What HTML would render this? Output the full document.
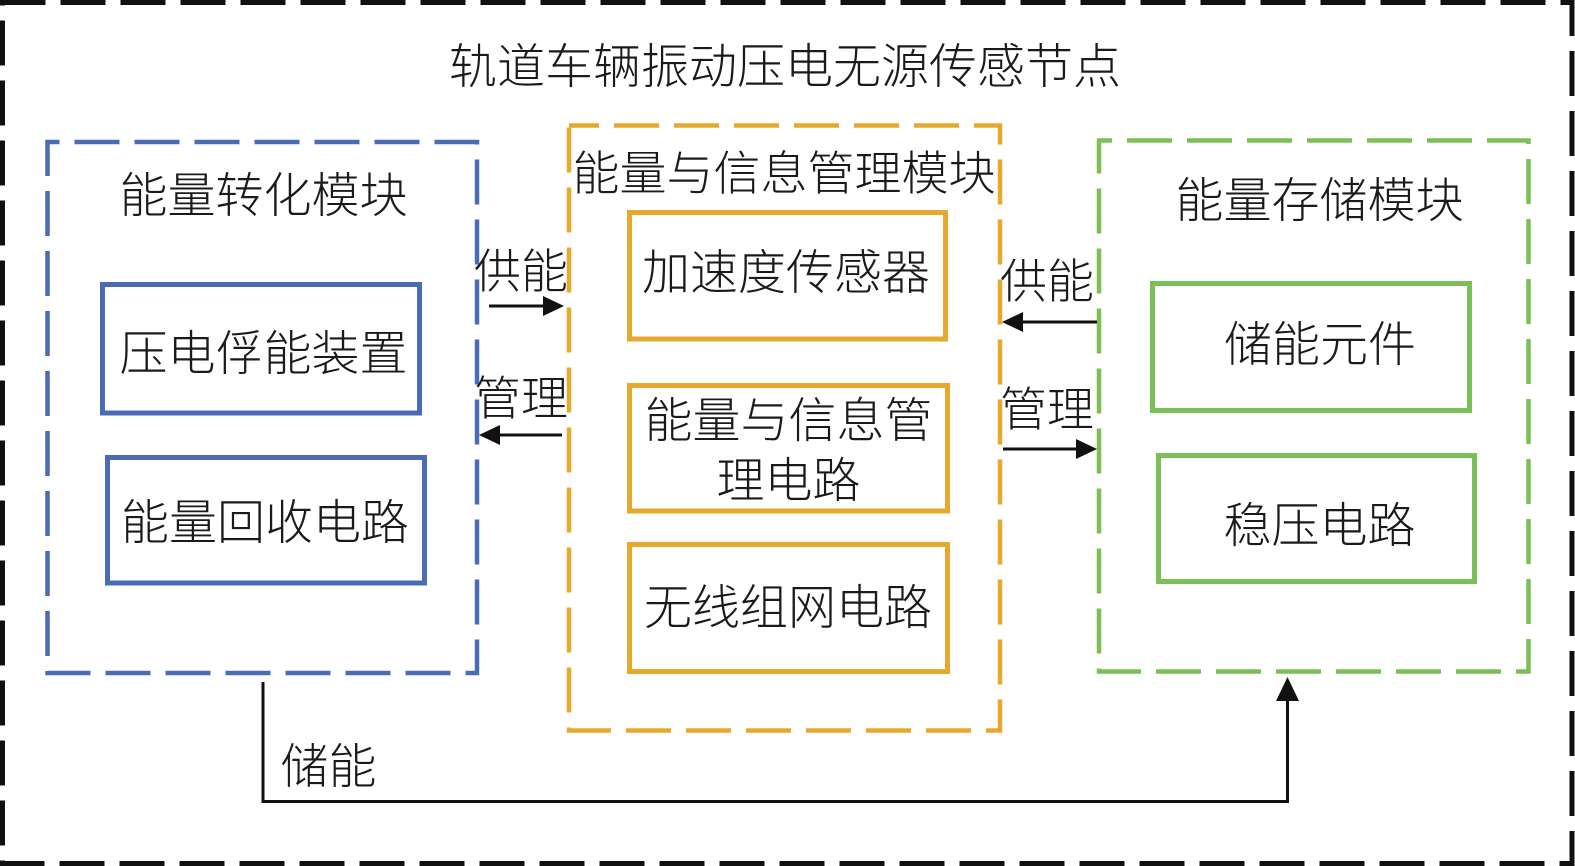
<!DOCTYPE html>
<html>
<head>
<meta charset="utf-8">
<style>
  html,body{margin:0;padding:0;background:#fff;}
  svg{display:block;}
  text{font-family:"Liberation Sans","Noto Sans CJK SC","WenQuanYi Zen Hei",sans-serif;font-weight:300;fill:#1a1a1a;}
</style>
</head>
<body>
<svg width="1575" height="866" viewBox="0 0 1575 866" xmlns="http://www.w3.org/2000/svg">
  <rect x="0" y="0" width="1575" height="866" fill="#fff"/>

  <!-- outer dashed border -->
  <rect x="2.5" y="2.5" width="1569.5" height="861" fill="none" stroke="#111" stroke-width="5" stroke-dasharray="45 15" stroke-dashoffset="2"/>

  <!-- title -->
  <text x="785" y="83" font-size="48" text-anchor="middle">轨道车辆振动压电无源传感节点</text>

  <!-- blue module -->
  <rect x="47.5" y="142" width="429.5" height="531" fill="none" stroke="#4A6CB4" stroke-width="4.5" stroke-dasharray="45 15" stroke-dashoffset="33"/>
  <text x="263.5" y="212" font-size="48" text-anchor="middle">能量转化模块</text>
  <rect x="102.5" y="284.5" width="317" height="128.5" fill="none" stroke="#4A6CB4" stroke-width="5"/>
  <text x="263.5" y="370" font-size="48" text-anchor="middle">压电俘能装置</text>
  <rect x="107.5" y="457.5" width="317" height="125.5" fill="none" stroke="#4A6CB4" stroke-width="5"/>
  <text x="265" y="539" font-size="48" text-anchor="middle">能量回收电路</text>

  <!-- orange module -->
  <rect x="569" y="125.5" width="431" height="605" fill="none" stroke="#E6A92D" stroke-width="4.5" stroke-dasharray="45 15" stroke-dashoffset="15"/>
  <text x="784" y="190" font-size="47" text-anchor="middle">能量与信息管理模块</text>
  <rect x="629.5" y="212.5" width="316" height="126.5" fill="none" stroke="#E6A92D" stroke-width="5"/>
  <text x="786" y="289" font-size="48" text-anchor="middle">加速度传感器</text>
  <rect x="629.5" y="385.5" width="318" height="125.5" fill="none" stroke="#E6A92D" stroke-width="5"/>
  <text x="788.5" y="437" font-size="48" text-anchor="middle">能量与信息管</text>
  <text x="788.5" y="497" font-size="48" text-anchor="middle">理电路</text>
  <rect x="629.5" y="544.5" width="318" height="127" fill="none" stroke="#E6A92D" stroke-width="5"/>
  <text x="788" y="624" font-size="48" text-anchor="middle">无线组网电路</text>

  <!-- green module -->
  <rect x="1099" y="140.5" width="429.5" height="531" fill="none" stroke="#7BC056" stroke-width="4.5" stroke-dasharray="45 15" stroke-dashoffset="32"/>
  <text x="1319.5" y="217" font-size="48" text-anchor="middle">能量存储模块</text>
  <rect x="1152.5" y="283.5" width="317" height="127" fill="none" stroke="#7BC056" stroke-width="5"/>
  <text x="1320" y="361" font-size="48" text-anchor="middle">储能元件</text>
  <rect x="1158.5" y="455.5" width="316" height="126" fill="none" stroke="#7BC056" stroke-width="5"/>
  <text x="1319.5" y="542" font-size="48" text-anchor="middle">稳压电路</text>

  <!-- left arrows -->
  <text x="521" y="288" font-size="47" text-anchor="middle">供能</text>
  <line x1="489" y1="306" x2="546" y2="306" stroke="#111" stroke-width="3"/>
  <polygon points="564,306 543,296 543,316" fill="#111"/>
  <text x="521" y="415" font-size="47" text-anchor="middle">管理</text>
  <line x1="562" y1="435" x2="497" y2="435" stroke="#111" stroke-width="3"/>
  <polygon points="479,435 500,425 500,445" fill="#111"/>

  <!-- right arrows -->
  <text x="1047" y="298" font-size="47" text-anchor="middle">供能</text>
  <line x1="1097" y1="322" x2="1020" y2="322" stroke="#111" stroke-width="3"/>
  <polygon points="1002,322 1023,312 1023,332" fill="#111"/>
  <text x="1047" y="426" font-size="47" text-anchor="middle">管理</text>
  <line x1="1003" y1="449" x2="1080" y2="449" stroke="#111" stroke-width="3"/>
  <polygon points="1097,449 1076,439 1076,459" fill="#111"/>

  <!-- bottom connector -->
  <polyline points="263,682 263,801.5 1287.5,801.5 1287.5,698" fill="none" stroke="#111" stroke-width="3"/>
  <polygon points="1287.5,677 1276,701 1299,701" fill="#111"/>
  <text x="328.5" y="783" font-size="48" text-anchor="middle">储能</text>
</svg>
</body>
</html>
